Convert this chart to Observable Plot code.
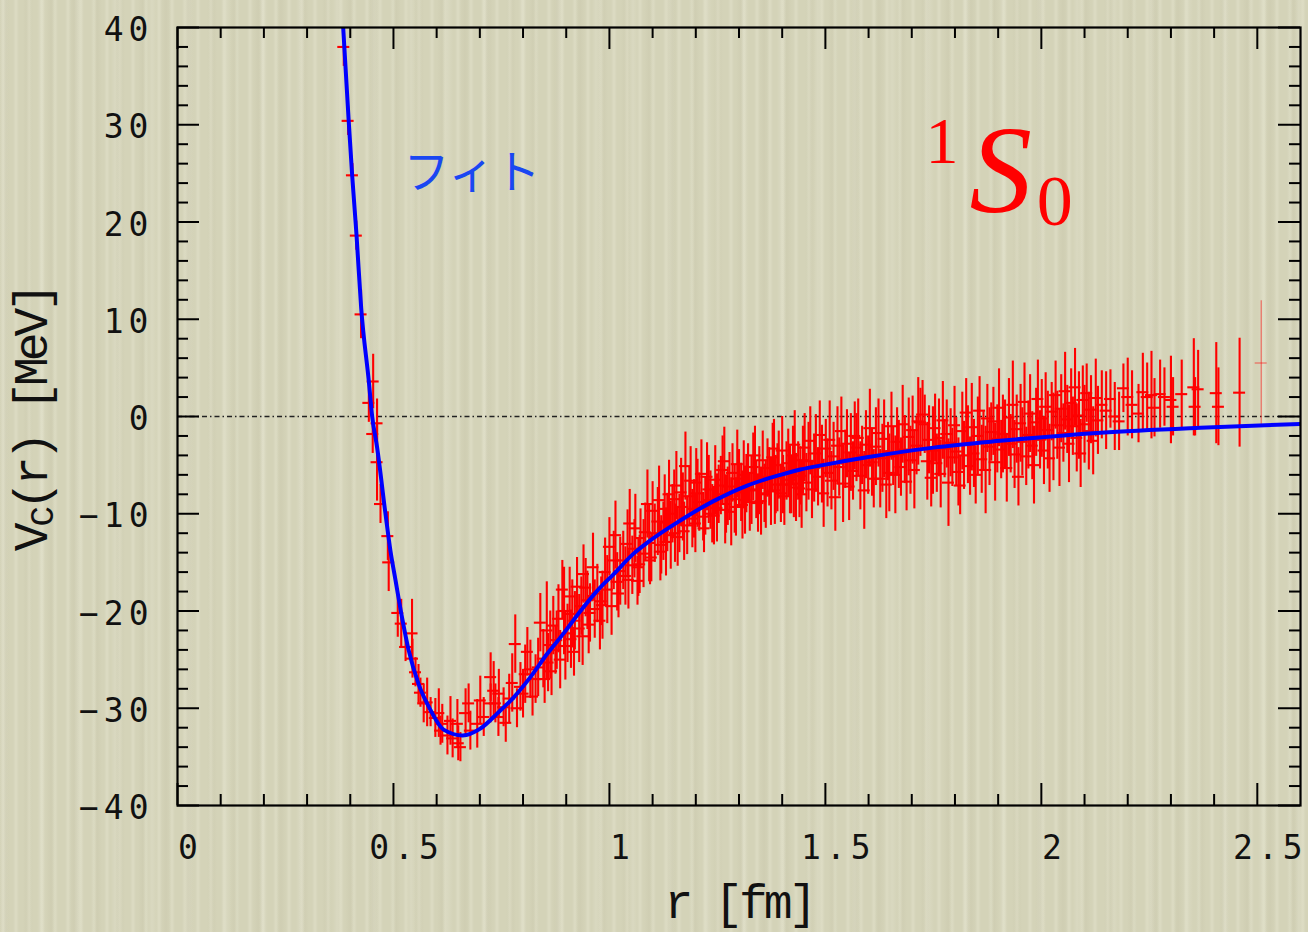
<!DOCTYPE html>
<html><head><meta charset="utf-8">
<script src="https://cdn.jsdelivr.net/npm/d3@7"></script>
<script src="https://cdn.jsdelivr.net/npm/@observablehq/plot@0.6"></script>
<style>
html,body{margin:0;padding:0;}
body{width:1308px;height:932px;overflow:hidden;background-color:#d4d3b8;
background-image:
 repeating-linear-gradient(90deg, rgba(255,255,240,0) 0px, rgba(255,255,240,0.20) 3px, rgba(255,255,240,0) 6px, rgba(255,255,240,0) 13px),
 repeating-linear-gradient(90deg, rgba(120,110,80,0) 0px, rgba(120,110,80,0.05) 5px, rgba(120,110,80,0) 10px, rgba(120,110,80,0) 23px),
 repeating-linear-gradient(90deg, rgba(255,255,250,0) 0px, rgba(255,255,250,0.12) 4px, rgba(255,255,250,0) 9px, rgba(255,255,250,0) 37px);}
svg{display:block;}
</style></head><body><div id="chart"></div>
<script>
// ---- data (r [fm], V [MeV], error [MeV]) ----
const steepPoints = [
[0.385,38.0,2.0],[0.395,30.4,1.5],[0.405,24.8,1.2],[0.414,18.6,1.5],[0.425,10.5,2.5],
[0.443,1.4,2.0],[0.453,3.6,2.8],[0.452,-1.8,2.0],[0.462,-0.7,2.5],[0.462,-4.7,4.0],
[0.470,-9.0,2.0],[0.487,-12.3,2.5],[0.489,-15.0,3.0],[0.510,-20.2,2.5],[0.518,-21.3,2.5],
[0.543,-22.3,3.5]
];
const wellPoints = [
[0.528,-23.7,1.5],[0.544,-24.9,2.0],[0.551,-26.3,1.5],[0.558,-27.5,2.0],[0.5625,-28.4,1.5],
[0.570,-29.5,2.0],[0.578,-29.4,2.5],[0.586,-30.4,1.5],[0.597,-31.0,2.0],[0.605,-30.5,2.5],
[0.609,-32.3,1.5],[0.613,-31.6,2.0],[0.625,-32.8,2.0],[0.632,-31.3,2.5],[0.637,-33.1,2.0],
[0.648,-31.6,2.5],[0.650,-33.6,1.8],[0.655,-34.0,1.5],[0.667,-30.5,2.5],[0.674,-29.5,2.0],
[0.678,-32.3,2.0],[0.694,-31.6,2.5],[0.701,-29.2,2.5],[0.709,-30.9,2.0],[0.725,-26.8,2.5],
[0.725,-29.5,2.0],[0.732,-28.2,3.0],[0.736,-29.5,2.0],[0.743,-30.9,2.0],[0.744,-28.5,2.5],
[0.755,-29.9,2.0],[0.760,-31.5,2.0],[0.768,-29.0,2.5],[0.775,-27.4,3.0],[0.782,-23.4,3.0],
[0.786,-30.0,2.0],[0.794,-27.8,2.5],[0.800,-28.5,2.5],[0.805,-26.5,3.0],[0.810,-24.2,2.5],
[0.817,-26.0,3.0],[0.822,-28.8,2.0],[0.829,-27.0,2.5],[0.835,-25.8,3.0],[0.840,-21.2,3.0],
[0.847,-24.9,3.0],[0.850,-27.0,2.5],[0.855,-22.0,5.0],[0.858,-25.3,3.0],[0.863,-23.5,3.5],
[0.866,-26.2,2.5],[0.870,-21.5,3.0],[0.875,-24.0,2.5],[0.878,-23.0,3.0],[0.882,-20.8,3.5],
[0.886,-25.0,3.0],[0.891,-17.8,3.0],[0.895,-20.0,4.5],[0.898,-23.6,3.5],[0.903,-22.3,3.0],
[0.908,-18.5,3.0],[0.911,-22.9,3.0],[0.914,-20.3,3.5],[0.918,-24.2,2.5],[0.920,-21.0,3.0],
[0.925,-17.5,3.0],[0.930,-21.8,3.5],[0.935,-19.5,3.0],[0.938,-22.6,3.0],[0.940,-16.2,3.0],
[0.945,-17.6,3.0],[0.949,-18.9,3.0],[0.952,-21.4,3.0],[0.955,-20.2,3.0]
];
const risePoints = [
[0.962,-15.5,3.5],[0.966,-19.8,3.0],[0.972,-18.2,3.0],[0.978,-21.0,3.0],[0.981,-19.0,2.5],
[0.984,-19.4,3.5],[0.990,-16.0,3.5],[0.995,-17.8,3.5],[1.000,-13.4,3.0],[1.005,-19.5,3.0],
[1.010,-14.8,3.0],[1.014,-12.2,3.5],[1.018,-17.0,3.0],[1.021,-18.2,2.5],[1.025,-15.9,3.5],
[1.032,-14.8,3.0],[1.037,-16.4,3.0],[1.042,-13.1,3.5],[1.044,-16.8,3.0],[1.047,-11.0,3.5],
[1.053,-15.3,3.0],[1.058,-13.6,3.0],[1.060,-11.5,3.5],[1.065,-16.9,2.5],[1.067,-15.5,3.0],
[1.070,-15.2,3.0],[1.072,-12.5,3.0],[1.079,-14.1,3.5],[1.083,-11.9,3.0],[1.088,-9.0,3.5],
[1.092,-13.0,4.0],[1.094,-14.8,2.5],[1.097,-14.5,2.5],[1.100,-9.7,3.0],[1.105,-12.0,3.0],
[1.112,-10.8,3.5],[1.115,-8.6,3.5],[1.118,-13.9,3.0],[1.120,-13.2,3.0],[1.125,-11.8,3.0],
[1.128,-9.5,3.5],[1.131,-12.9,3.5],[1.134,-10.9,3.0],[1.138,-8.0,3.5],[1.142,-12.2,3.5],
[1.146,-10.0,3.0],[1.150,-8.5,3.0],[1.152,-12.0,3.0],[1.155,-7.1,3.5],[1.158,-12.4,3.0],
[1.162,-11.0,3.0],[1.166,-7.8,3.5],[1.170,-9.3,3.5],[1.173,-11.8,3.0],[1.176,-5.1,3.5],
[1.180,-11.2,3.0],[1.185,-8.2,3.0],[1.188,-6.6,3.5],[1.192,-10.5,3.0],[1.196,-9.5,3.0],
[1.199,-11.0,3.0],[1.201,-6.8,3.5],[1.204,-7.9,3.5],[1.208,-8.8,3.0],[1.213,-5.9,3.5],
[1.217,-10.3,2.5],[1.219,-11.5,2.5],[1.222,-9.2,3.0],[1.226,-6.2,3.5],[1.230,-7.5,3.5],
[1.234,-8.6,3.0],[1.238,-10.0,3.0],[1.242,-10.2,3.0],[1.245,-6.5,3.5],[1.249,-9.4,3.5],
[1.253,-8.0,3.0],[1.258,-7.1,3.0],[1.262,-5.5,3.5],[1.266,-4.6,3.5],[1.268,-9.6,3.5],
[1.270,-9.0,3.0],[1.274,-8.2,3.0],[1.278,-7.2,3.5],[1.282,-9.8,3.5],[1.285,-5.8,3.0],
[1.290,-8.5,3.5],[1.293,-9.3,3.0],[1.296,-4.9,3.5],[1.300,-6.4,3.0],[1.305,-7.8,3.0],
[1.308,-9.1,3.5],[1.311,-6.0,3.5],[1.314,-8.6,3.5],[1.317,-6.9,3.0],[1.321,-5.8,3.0],
[1.325,-8.8,3.0],[1.329,-7.6,3.5],[1.333,-5.2,3.5],[1.337,-4.0,3.0],[1.340,-7.5,3.0],
[1.344,-8.9,3.0],[1.347,-6.6,3.5],[1.351,-8.7,3.5],[1.355,-4.5,3.0],[1.359,-7.9,3.0],
[1.362,-8.0,3.5],[1.366,-5.3,3.0],[1.370,-6.2,3.0],[1.374,-7.7,3.5],[1.378,-4.2,3.5],
[1.381,-3.3,3.0],[1.383,-7.6,3.5],[1.385,-7.0,3.0],[1.389,-6.3,3.5],[1.392,-5.0,3.5],
[1.397,-7.9,3.0],[1.400,-3.5,3.5],[1.402,-7.0,3.0],[1.405,-8.2,3.0],[1.410,-5.6,3.0],
[1.414,-4.8,3.5],[1.418,-6.5,3.5],[1.421,-7.0,3.0],[1.425,-4.0,3.0],[1.427,-6.9,3.5],
[1.429,-2.9,3.5],[1.432,-7.3,3.5],[1.437,-5.6,3.0],[1.440,-7.4,3.0],[1.442,-6.1,3.0],
[1.445,-8.0,3.5],[1.448,-4.5,3.5]
];
const tailPoints = [
[1.452,-3.2,3.5],[1.456,-6.8,3.0],[1.461,-4.6,4.0],[1.465,-2.5,3.5],[1.469,-7.5,3.0],
[1.474,-5.3,3.5],[1.478,-3.8,4.0],[1.483,-6.2,3.0],[1.487,-1.9,3.5],[1.492,-4.9,4.0],
[1.496,-7.9,3.5],[1.501,-3.3,3.0],[1.505,-5.8,3.5],[1.510,-2.4,4.0],[1.514,-6.6,3.0],
[1.519,-4.1,3.5],[1.523,-8.3,3.5],[1.528,-3.0,4.0],[1.532,-5.2,3.0],[1.537,-1.5,3.5],
[1.541,-6.9,4.0],[1.546,-4.4,3.0],[1.550,-2.8,3.5],[1.555,-7.2,3.5],[1.559,-3.7,4.0],
[1.564,-5.6,3.0],[1.568,-2.0,3.5],[1.572,-3.2,3.5],[1.576,-2.2,4.0],[1.581,-6.1,3.5],
[1.585,-4.0,3.0],[1.590,-7.6,4.0],[1.594,-2.9,3.5],[1.599,-5.0,3.0],[1.603,-1.2,4.0],
[1.608,-4.7,3.5],[1.612,-6.4,3.0],[1.617,-3.1,4.0],[1.623,-1.7,3.5],[1.627,-6.4,3.0],
[1.632,-4.3,3.5],[1.636,-2.3,4.0],[1.641,-7.0,3.5],[1.645,-3.6,3.0],[1.648,-5.8,4.0],
[1.653,-1.0,3.5],[1.657,-4.1,3.0],[1.662,-6.0,4.0],[1.666,-2.6,3.5],[1.670,-3.9,3.5],
[1.675,-5.2,3.0],[1.679,-0.8,4.0],[1.684,-3.4,3.5],[1.688,-6.7,3.0],[1.693,-2.1,4.0],
[1.697,-4.5,3.5],[1.702,-1.4,3.5],[1.706,-5.5,4.0],[1.711,-3.0,3.0],[1.715,-0.5,4.5],
[1.720,-0.6,3.5],[1.725,0.2,3.5],[1.730,-0.8,3.0],[1.736,-4.6,4.0],[1.740,-2.4,3.5],
[1.745,-6.3,3.0],[1.749,-3.5,4.5],[1.754,-1.2,3.5],[1.758,-4.8,3.0],[1.763,-2.2,4.0],
[1.767,-5.9,3.5],[1.772,-0.4,4.0],[1.776,-3.3,3.0],[1.781,-1.8,3.5],[1.785,-6.8,4.5],
[1.790,-2.7,3.5],[1.794,-4.2,3.0],[1.799,-0.9,4.0],[1.803,-3.6,3.5],[1.808,-5.7,3.5],
[1.812,-7.1,3.0],[1.817,-1.5,4.0],[1.821,-4.0,3.5],[1.826,0.4,3.5],[1.830,-2.9,4.0],
[1.835,-5.1,3.0],[1.839,-1.1,4.5],[1.844,-3.8,3.5],[1.848,-6.0,3.0],[1.853,-2.0,4.0],
[1.857,0.6,3.5],[1.862,-4.4,3.5],[1.866,-2.5,3.0],[1.871,-5.5,4.5],[1.875,-0.2,3.5],
[1.880,-3.1,4.0],[1.884,-1.6,3.0],[1.889,-0.5,3.5],[1.893,-4.7,4.0],[1.898,-2.3,3.5],
[1.902,0.9,4.0],[1.907,-3.4,3.0],[1.911,-1.8,4.0],[1.916,-1.8,3.5],[1.920,-5.3,3.5],
[1.925,-0.1,4.0],[1.929,-2.8,3.0],[1.934,1.2,4.5],[1.938,-3.9,3.5],[1.943,-1.3,3.5],
[1.947,-6.2,3.0],[1.952,-0.7,4.0],[1.956,-2.6,3.5],[1.961,1.5,4.0],[1.965,-4.1,3.0],
[1.970,-1.9,3.5],[1.974,0.3,4.0],[1.979,-3.0,3.5],[1.983,-5.0,4.0],[1.988,-0.6,3.5],
[1.992,1.8,4.0],[1.997,-2.4,3.0],[2.001,-0.2,4.0],[2.006,-3.5,3.5],[2.010,1.0,3.5],
[2.015,-1.4,4.0],[2.019,-4.3,3.5],[2.024,0.5,3.0],[2.028,-2.1,4.5],[2.033,2.2,3.5],
[2.037,-0.9,3.5],[2.042,-3.2,4.0],[2.046,0.8,3.5],[2.051,-1.7,3.0],[2.055,2.6,4.0],
[2.060,-0.3,3.5],[2.064,-2.8,4.0],[2.069,1.4,3.5],[2.073,-1.0,3.0],[2.078,3.0,4.0],
[2.082,-2.2,3.5],[2.087,0.1,4.5],[2.091,-3.8,3.5],[2.096,1.7,3.5],[2.100,-0.8,4.0],
[2.105,2.4,3.0],[2.110,-1.5,4.0],[2.115,0.7,3.5],[2.120,-2.5,3.5],[2.126,1.9,4.0],
[2.131,-0.4,3.5]
];
const farTailPoints = [
[2.140,1.2,3.5],[2.150,0.6,4.0],[2.160,1.8,3.0],[2.170,0.0,3.5],[2.180,-0.5,3.0],
[2.190,2.9,2.5],[2.200,2.0,4.0],[2.210,1.2,3.5],[2.225,0.3,3.0],[2.235,2.5,4.0],
[2.245,2.0,3.5],[2.255,2.2,4.5],[2.262,0.9,3.0],[2.275,2.3,3.5],[2.285,2.0,3.0],
[2.300,1.7,4.5],[2.305,1.0,3.0],[2.325,2.3,3.5],[2.353,3.0,5.0],[2.356,1.0,3.0],
[2.363,2.8,4.0],[2.405,2.4,5.2],[2.410,1.0,4.0],[2.459,2.45,5.6]
];
const lastPoint = [[2.509,5.5,6.4]];

// fitted curve
const fitR = [0.3836,0.3965,0.4044,0.4144,0.4252,0.443,0.4507,0.4622,0.4815,0.493,0.5046,0.52,0.535,0.558,0.586,0.616,0.66,0.701,0.741,0.778,0.817,0.856,0.894,0.933,0.972,1.01,1.056,1.087,1.164,1.241,1.319,1.396,1.442,1.5,1.596,1.75,1.905,2.137,2.368,2.6];
const fitV = [40,30.3,24.8,18.7,11.2,3.6,0,-3.2,-10,-13.8,-16.8,-20.7,-24.0,-27.5,-30.2,-32.2,-32.8,-32.1,-30.5,-28.9,-26.8,-24.4,-22.3,-20.0,-17.9,-16.2,-14.1,-13.0,-10.7,-8.7,-7.1,-6.0,-5.45,-4.95,-4.2,-3.2,-2.5,-1.66,-1.15,-0.77];

// ticks
const xMajor = [0,0.5,1,1.5,2,2.5];
const xTickLabels = ["0","0.5","1","1.5","2","2.5"];
const xMinor = [0.1,0.2,0.3,0.4,0.6,0.7,0.8,0.9,1.1,1.2,1.3,1.4,1.6,1.7,1.8,1.9,2.1,2.2,2.3,2.4];
const yMajor = [40,30,20,10,0,-10,-20,-30,-40];
const yTickLabels = ["40","30","20","10","0","\u221210","\u221220","\u221230","\u221240"];
const yMinor = [38,36,34,32,28,26,24,22,18,16,14,12,8,6,4,2,-2,-4,-6,-8,-12,-14,-16,-18,-22,-24,-26,-28,-32,-34,-36,-38];

// ---- font selection (pick first installed family) ----
function pickFont(cands, generic) {
  const ctx = document.createElement("canvas").getContext("2d");
  const probe = "mmmmmmmmmwwwlli[]()WMSg0123456789";
  const bases = ["monospace", "serif", "sans-serif"];
  const baseW = bases.map(b => { ctx.font = `40px ${b}`; return ctx.measureText(probe).width; });
  for (const f of cands) {
    const ok = bases.some((b, i) => { ctx.font = `40px "${f}", ${b}`; return Math.abs(ctx.measureText(probe).width - baseW[i]) > 0.5; });
    if (ok) return `"${f}", ${generic}`;
  }
  return generic;
}
const titleMono = pickFont(["Liberation Mono", "Courier New", "Courier", "Nimbus Mono PS", "FreeMono", "Cousine"], "monospace");
const serifFont = pickFont(["Liberation Serif", "Times New Roman", "Tinos", "Nimbus Roman", "DejaVu Serif"], "serif");
const tickMono = pickFont(["DejaVu Sans Mono"], "monospace");
const cjkFont = pickFont(["Noto Sans CJK JP", "Noto Sans CJK SC"], "sans-serif");
const titleSize = 48, titleSpacing = -4;

// ---- layout ----
const W = 1308, H = 932, mL = 177, mR = 8, mT = 27, mB = 127;
const xDom = [0, 2.6], yDom = [-40, 40];
const pxX = (W - mL - mR) / (xDom[1] - xDom[0]);
const pxY = (H - mT - mB) / (yDom[1] - yDom[0]);
const majX = 22 / pxY, minX = 11 / pxY;
const majY = 22 / pxX, minY = 11 / pxX;
const cap = 6 / pxX;

const toObj = a => a.map(([r, v, e]) => ({r, v, e}));
const points = toObj([...steepPoints, ...wellPoints, ...risePoints, ...tailPoints, ...farTailPoints]);
const lastP = toObj(lastPoint);
const fit = fitR.map((r, i) => ({r, v: fitV[i]}));

const RED = "#ff0000";

const svg = Plot.plot({
  width: W, height: H,
  marginLeft: mL, marginRight: mR, marginTop: mT, marginBottom: mB,
  style: {background: "transparent", overflow: "visible"},
  x: {domain: xDom, axis: null},
  y: {domain: yDom, axis: null},
  marks: [
    Plot.ruleY([0], {stroke: "#222", strokeWidth: 1.3, strokeDasharray: "5,3,1.5,3"}),
    Plot.ruleX(points, {x: "r", y1: d => d.v - d.e, y2: d => d.v + d.e, stroke: RED, strokeWidth: 2.1, clip: true}),
    Plot.ruleY(points, {y: "v", x1: d => d.r - cap, x2: d => d.r + cap, stroke: RED, strokeWidth: 2.1, clip: true}),
    Plot.ruleX(lastP, {x: "r", y1: d => d.v - d.e, y2: d => d.v + d.e, stroke: RED, strokeOpacity: 0.6, strokeWidth: 1}),
    Plot.ruleY(lastP, {y: "v", x1: d => d.r - cap, x2: d => d.r + cap, stroke: RED, strokeOpacity: 0.6, strokeWidth: 1}),
    Plot.line(fit, {x: "r", y: "v", stroke: "#0000ff", strokeWidth: 4, curve: "monotone-x", clip: true}),
    Plot.ruleX(xMajor, {x: d => d, y1: yDom[0], y2: yDom[0] + majX, stroke: "#000", strokeWidth: 2}),
    Plot.ruleX(xMinor, {x: d => d, y1: yDom[0], y2: yDom[0] + minX, stroke: "#000", strokeWidth: 2}),
    Plot.ruleX(xMajor, {x: d => d, y1: yDom[1], y2: yDom[1] - majX, stroke: "#000", strokeWidth: 2}),
    Plot.ruleX(xMinor, {x: d => d, y1: yDom[1], y2: yDom[1] - minX, stroke: "#000", strokeWidth: 2}),
    Plot.ruleY(yMajor, {y: d => d, x1: xDom[0], x2: xDom[0] + majY, stroke: "#000", strokeWidth: 2}),
    Plot.ruleY(yMinor, {y: d => d, x1: xDom[0], x2: xDom[0] + minY, stroke: "#000", strokeWidth: 2}),
    Plot.ruleY(yMajor, {y: d => d, x1: xDom[1] - majY, x2: xDom[1], stroke: "#000", strokeWidth: 2}),
    Plot.ruleY(yMinor, {y: d => d, x1: xDom[1] - minY, x2: xDom[1], stroke: "#000", strokeWidth: 2}),
    Plot.frame({stroke: "#000", strokeWidth: 2.2}),
    Plot.text(xMajor, {x: d => d, text: (d, i) => xTickLabels[i], frameAnchor: "bottom", dy: 53, dx: 13,
      fontFamily: tickMono, fontSize: 33, fill: "#111"}),
    Plot.text(yMajor, {y: d => d, text: (d, i) => yTickLabels[i], frameAnchor: "left", dx: -24, dy: 3,
      textAnchor: "end", fontFamily: tickMono, fontSize: 33, fill: "#111"}),
    Plot.text(["r [fm]"], {text: d => d, frameAnchor: "bottom", dy: 112, fontFamily: titleMono, fontSize: titleSize, fill: "#111"}),
    Plot.text(["フィト"], {text: d => d, x: 0.682, y: 25, fontFamily: cjkFont, fontSize: 46, fill: "#1a47f2"}),
    Plot.text(["1"], {text: d => d, x: 1.770, y: 28.2, fontFamily: serifFont, fontSize: 66, fill: RED}),
    Plot.text(["S"], {text: d => d, x: 1.906, y: 25.1, fontFamily: serifFont, fontStyle: "italic", fontSize: 125, fill: RED}),
    Plot.text(["0"], {text: d => d, x: 2.031, y: 22.1, fontFamily: serifFont, fontSize: 72, fill: RED})
  ]
});

d3.select(svg).selectAll("g").each(function() {
  const ff = this.getAttribute("font-family") || "";
  const fs = this.getAttribute("font-size") || "";
  if (ff === tickMono && fs === "33") this.setAttribute("letter-spacing", "5");
  if (ff === titleMono && fs === String(titleSize)) this.setAttribute("letter-spacing", titleSpacing);
});

const yt = d3.select(svg).append("text")
  .attr("transform", "translate(47,419) rotate(-90)")
  .attr("text-anchor", "middle")
  .attr("font-family", titleMono).attr("font-size", titleSize)
  .attr("letter-spacing", titleSpacing)
  .attr("fill", "#111");
yt.append("tspan").text("V");
yt.append("tspan").attr("font-size", 34).attr("dy", 6).text("C");
yt.append("tspan").attr("dy", -6).text("(r) [MeV]");

document.getElementById("chart").appendChild(svg);
</script></body></html>
